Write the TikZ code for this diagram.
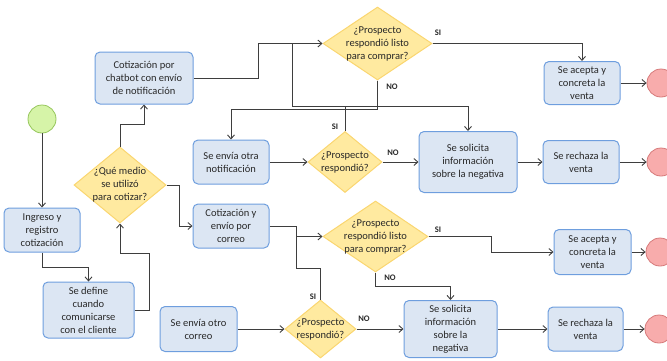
\documentclass[tikz,border=0pt]{standalone}
\usepackage{fontspec}
\setmainfont{Carlito}
\usetikzlibrary{arrows.meta,shapes.geometric}
\definecolor{cajafondo}{RGB}{220,230,243}
\definecolor{cajaborde}{RGB}{110,158,222}
\definecolor{rombofondo}{RGB}{255,234,160}
\definecolor{romboborde}{RGB}{250,214,112}
\definecolor{linea}{RGB}{62,62,62}
\definecolor{texto}{RGB}{40,40,40}
\definecolor{verdefondo}{RGB}{214,244,168}
\definecolor{verdeborde}{RGB}{150,198,92}
\definecolor{rojofondo}{RGB}{248,172,172}
\definecolor{rojoborde}{RGB}{214,122,122}

\begin{document}
\begin{tikzpicture}[x=1pt,y=-1pt,
    caja/.style={draw=cajaborde,fill=cajafondo,line width=1pt,rounded corners=5pt,
      align=center,inner sep=1pt,text=texto,font=\fontsize{10.5}{13}\selectfont},
    rombo/.style={diamond,draw=romboborde,fill=rombofondo,line width=1pt,inner sep=0pt},
    rtexto/.style={align=center,text=texto,inner sep=0pt,font=\fontsize{10.5}{13}\selectfont},
    inicio/.style={circle,draw=verdeborde,fill=verdefondo,line width=0.8pt,minimum size=28pt,inner sep=0pt},
    fin/.style={circle,draw=rojoborde,fill=rojofondo,line width=0.8pt,minimum size=28pt,inner sep=0pt},
    conector/.style={draw=linea,line width=0.9pt},
    flecha/.style={conector,-{Straight Barb[length=4pt,width=7pt]}},
    etiq/.style={font=\bfseries\fontsize{8.5}{10}\selectfont,text=texto,inner sep=0pt}]
  \useasboundingbox (0,0) rectangle (667,360);
  % start and first steps
  \node[inicio] (ini) at (42,119) {};
  \node[caja,minimum width=76pt,minimum height=44pt] (ingreso) at (42,230) {Ingreso y\\registro\\cotización};
  \node[caja,minimum width=91pt,minimum height=56pt] (define) at (88.5,310) {Se define\\cuando\\comunicarse\\con el cliente};
  \node[rombo,minimum width=92pt,minimum height=76pt,
    label={[rtexto]center:¿Qué medio\\se utilizó\\para cotizar?}] (medio) at (120,185) {};
  % chatbot branch
  \node[caja,minimum width=98pt,minimum height=52pt] (chatbot) at (144,78) {Cotización por\\chatbot con envío\\de notificación};
  \node[rombo,minimum width=109pt,minimum height=73pt,
    label={[rtexto]center:¿Prospecto\\respondió listo\\para comprar?}] (d1) at (377.5,43.5) {};
  \node[caja,minimum width=76pt,minimum height=43pt] (acepta1) at (582,83) {Se acepta y\\concreta la\\venta};
  \node[caja,minimum width=76pt,minimum height=44pt] (otranot) at (231,162) {Se envía otra\\notificación};
  \node[rombo,minimum width=74pt,minimum height=61pt,
    label={[rtexto]center:¿Prospecto\\respondió?}] (sd1) at (345,162) {};
  \node[caja,minimum width=98pt,minimum height=61pt] (solic1) at (468,162) {Se solicita\\información\\sobre la negativa};
  \node[caja,minimum width=76pt,minimum height=43pt] (rechaza1) at (581,162) {Se rechaza la\\venta};
  % correo branch
  \node[caja,minimum width=76pt,minimum height=44pt] (correo) at (231,226) {Cotización y\\envío por\\correo};
  \node[rombo,minimum width=105pt,minimum height=71pt,
    label={[rtexto]center:¿Prospecto\\respondió listo\\para comprar?}] (d2) at (375.5,236.5) {};
  \node[caja,minimum width=77pt,minimum height=45pt] (acepta2) at (592.5,252) {Se acepta y\\concreta la\\venta};
  \node[caja,minimum width=77pt,minimum height=45pt] (otrocorreo) at (198.5,329) {Se envía otro\\correo};
  \node[rombo,minimum width=71pt,minimum height=58pt,
    label={[rtexto]center:¿Prospecto\\respondió?}] (sd2) at (320.5,329) {};
  \node[caja,minimum width=93pt,minimum height=57pt] (solic2) at (450.5,329) {Se solicita\\información\\sobre la\\negativa};
  \node[caja,minimum width=75pt,minimum height=44pt] (rechaza2) at (585.5,329) {Se rechaza la\\venta};
  % end circles
  \node[fin] (fin1) at (661,83) {};
  \node[fin] (fin2) at (661,162) {};
  \node[fin] (fin3) at (660,252) {};
  \node[fin] (fin4) at (659,329) {};
  % loop points
  \coordinate (lazo1) at (292,43.5);
  \coordinate (codo1) at (292,106);
  \coordinate (lazo2) at (296,236.5);
  \coordinate (codo2) at (296,268);
  \coordinate (codo3) at (149,253);
  % connectors
  \draw[flecha] (ini) -- (ingreso);
  \draw[flecha] (ingreso.south) -- ++(0,15) -| (define.north);
  \draw[flecha] (define.east) -| (codo3) -| (medio.south);
  \draw[flecha] (medio.north) -- ++(0,-22) -| (chatbot.south);
  \draw[flecha] (medio.east) -- ++(13,0) |- (correo.west);
  \draw[flecha] (chatbot.east) -- ++(65,0) |- (d1.west);
  \draw[flecha] (d1.east) -| (acepta1.north);
  \draw[flecha] (acepta1) -- (fin1);
  \draw[flecha] (d1.south) -- ++(0,29) -| (otranot.north);
  \draw[flecha] (d1.south) -- ++(0,26) -| (solic1.north);
  \draw[conector] (d1.south) |- (sd1.north |- codo1);
  \draw[conector] (sd1.north) |- (codo1) -- (lazo1);
  \draw[flecha] (otranot) -- (sd1);
  \draw[flecha] (sd1) -- (solic1);
  \draw[flecha] (solic1) -- (rechaza1);
  \draw[flecha] (rechaza1) -- (fin2);
  \draw[flecha] (correo.east) -- ++(27,0) |- (d2.west);
  \draw[conector] (sd2.north) |- (codo2) -- (lazo2);
  \draw[flecha] (d2.east) -- ++(63,0) |- (acepta2.west);
  \draw[flecha] (acepta2) -- (fin3);
  \draw[flecha] (d2.south) -- ++(0,14) -| (solic2.north);
  \draw[flecha] (otrocorreo) -- (sd2);
  \draw[flecha] (sd2) -- (solic2);
  \draw[flecha] (solic2) -- (rechaza2);
  \draw[flecha] (rechaza2) -- (fin4);
  % branch labels
  \node[etiq] (si1) at (438,33) {SI};
  \node[etiq] (no1) at (392,87) {NO};
  \node[etiq] (si2) at (335,127) {SI};
  \node[etiq] (no2) at (393,153) {NO};
  \node[etiq] (si3) at (438,230) {SI};
  \node[etiq] (no3) at (390,278) {NO};
  \node[etiq] (si4) at (313,297) {SI};
  \node[etiq] (no4) at (364,319) {NO};
\end{tikzpicture}
\end{document}
